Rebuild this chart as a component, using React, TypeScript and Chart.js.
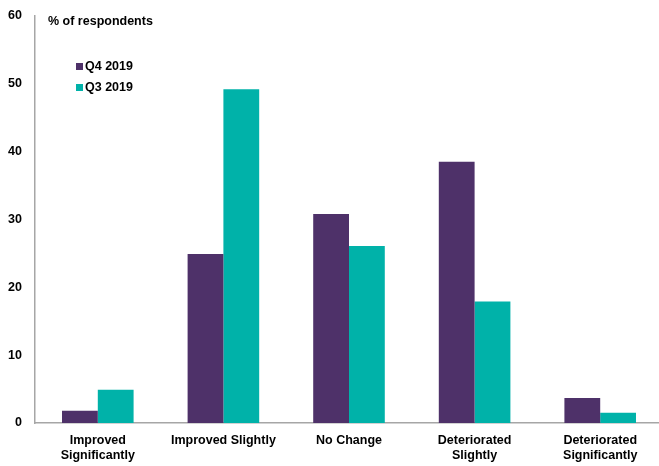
import React, { useEffect, useRef } from "react";
import { Chart, registerables } from "chart.js";

Chart.register(...registerables);

const categories: (string | string[])[] = [
  ["Improved", "Significantly"],
  "Improved Slightly",
  "No Change",
  ["Deteriorated", "Slightly"],
  ["Deteriorated", "Significantly"],
];
const q4_2019 = [1.8, 24.9, 30.8, 38.5, 3.7];
const q3_2019 = [4.9, 49.2, 26.1, 17.9, 1.5];
const seriesLabels = ["Q4 2019", "Q3 2019"];
const yTitle = "% of respondents";

const PURPLE = "#4E3169";
const TEAL = "#00B2A9";
const FONT = "'Liberation Sans', Arial, sans-serif";

const overlayPlugin = {
  id: "overlay",
  afterDraw(chart: any) {
    const { ctx, chartArea } = chart;
    ctx.save();
    ctx.font = `bold 12.5px ${FONT}`;
    ctx.fillStyle = "#000";
    ctx.textBaseline = "middle";
    ctx.textAlign = "left";
    ctx.fillText(yTitle, chartArea.left + 13, chartArea.top + 6);
    chart.data.datasets.forEach((ds: any, i: number) => {
      const x = chartArea.left + 41;
      const y = chartArea.top + 51 + i * 21;
      ctx.fillStyle = ds.backgroundColor;
      ctx.fillRect(x, y - 4, 7, 7);
      ctx.fillStyle = "#000";
      ctx.fillText(ds.label, x + 9, y);
    });
    ctx.restore();
  },
};

export default function App() {
  const ref = useRef<HTMLCanvasElement>(null);
  useEffect(() => {
    if (!ref.current) return;
    const chart = new Chart(ref.current, {
      type: "bar",
      data: {
        labels: categories,
        datasets: [
          { label: seriesLabels[0], data: q4_2019, backgroundColor: PURPLE },
          { label: seriesLabels[1], data: q3_2019, backgroundColor: TEAL },
        ],
      },
      options: {
        animation: false,
        responsive: false,
        maintainAspectRatio: false,
        layout: { padding: { top: 16, right: 0, bottom: 0, left: 0 } },
        datasets: {
          bar: { categoryPercentage: 0.57, barPercentage: 1 },
        },
        plugins: {
          legend: { display: false },
          tooltip: { enabled: false },
          title: { display: false },
        },
        scales: {
          x: {
            grid: { display: false, drawTicks: false },
            border: { display: true, color: "#A6A6A6", width: 1.5 },
            ticks: {
              color: "#000",
              font: { family: FONT, size: 12.5, weight: "bold" },
              padding: 10,
              maxRotation: 0,
              autoSkip: false,
            },
            afterFit(scale: any) {
              scale.height = 43;
              scale.paddingLeft = 0;
              scale.paddingRight = 0;
            },
          },
          y: {
            min: 0,
            max: 60,
            grid: { display: false, drawTicks: false },
            border: { display: true, color: "#A6A6A6", width: 1.5 },
            ticks: {
              stepSize: 10,
              color: "#000",
              font: { family: FONT, size: 12.5, weight: "bold" },
              padding: 13,
            },
            afterFit(scale: any) {
              scale.width = 35;
              scale.paddingTop = 0;
              scale.paddingBottom = 0;
            },
          },
        },
      },
      plugins: [overlayPlugin],
    });
    return () => chart.destroy();
  }, []);
  return (
    <div style={{ position: "fixed", left: 0, top: 0, width: 659, height: 466, overflow: "hidden", background: "#fff" }}>
      <canvas ref={ref} width={663} height={466} style={{ display: "block" }} />
    </div>
  );
}
